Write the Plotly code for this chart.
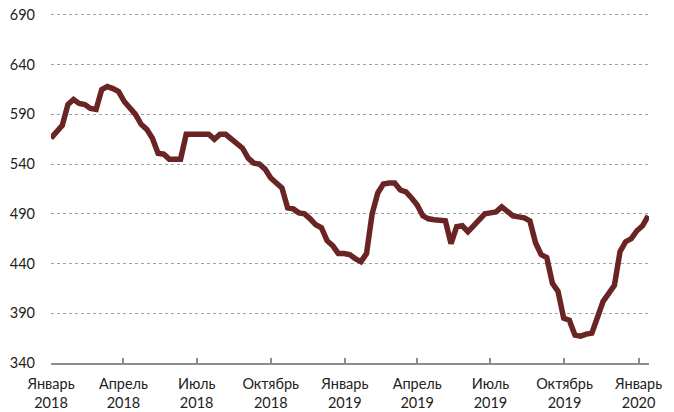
import plotly.graph_objects as go
import pandas as pd

start_date = "2018-01-01"
values = [
    566, 572, 579, 600, 605, 601, 600, 596, 595, 615,
    618, 616, 613, 603, 597, 590, 580, 575, 566, 551,
    550, 545, 545, 545, 570, 570, 570, 570, 570, 565,
    570, 570, 565, 560, 556, 546, 541, 540, 535, 526,
    521, 516, 496, 495, 491, 490, 485, 479, 476, 463,
    458, 450, 450, 449, 445, 442, 450, 490, 511, 520,
    521, 521, 514, 512, 506, 499, 488, 485, 484, 483,
    483, 460, 477, 478, 472, 478, 484, 490, 491, 492,
    497, 492, 488, 487, 486, 483, 461, 449, 446, 420,
    412, 385, 383, 368, 367, 369, 370, 386, 402, 410,
    418, 452, 462, 465, 473, 478, 488,
]
dates = pd.date_range(start_date, periods=len(values), freq="7D")

tick_dates = ["2018-01-01", "2018-04-01", "2018-07-01", "2018-10-01",
              "2019-01-01", "2019-04-01", "2019-07-01", "2019-10-01", "2020-01-01"]
tick_labels = ["Январь<br>2018", "Апрель<br>2018", "Июль<br>2018", "Октябрь<br>2018",
               "Январь<br>2019", "Апрель<br>2019", "Июль<br>2019", "Октябрь<br>2019",
               "Январь<br>2020"]
y_ticks = [340, 390, 440, 490, 540, 590, 640, 690]

fig = go.Figure()
fig.add_trace(go.Scatter(
    x=dates, y=values, mode="lines",
    line=dict(color="#6A2424", width=5.5, shape="linear"),
    hoverinfo="skip", showlegend=False, cliponaxis=False,
))

fig.update_layout(
    width=674, height=412,
    margin=dict(l=51, r=25, t=13, b=49),
    paper_bgcolor="white", plot_bgcolor="white",
    font=dict(family="Lato, 'Open Sans', sans-serif", size=14, color="#222222"),
    showlegend=False,
)
fig.update_xaxes(
    type="date",
    range=["2018-01-01", "2020-01-14"],
    tickvals=tick_dates, ticktext=tick_labels,
    showgrid=False, zeroline=False,
    showline=True, linecolor="#8c8c8c", linewidth=1.5,
    ticks="inside", ticklen=5, tickcolor="#8c8c8c", tickwidth=1.5,
    tickfont=dict(size=14.5, color="#222222"),
    ticklabelstandoff=7, automargin=False,
)
fig.update_yaxes(
    range=[340, 692],
    tickvals=y_ticks,
    showgrid=True, gridcolor="#a0a0a0", gridwidth=1, griddash="dot",
    zeroline=False, showline=False,
    ticks="", tickfont=dict(size=14.5, color="#222222"),
    ticklabelstandoff=15, automargin=False,
)

fig.write_html("out.html")
